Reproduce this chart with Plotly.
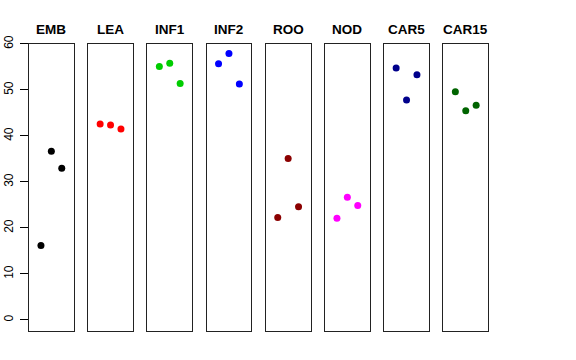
import plotly.graph_objects as go

tissues = ["EMB", "LEA", "INF1", "INF2", "ROO", "NOD", "CAR5", "CAR15"]
colors = ["#000000", "#FF0000", "#00CD00", "#0000FF", "#8B0000", "#FF00FF", "#00008B", "#006400"]
reps = [1, 2, 3]
values = {
    "EMB": [16.2, 36.7, 33.0],
    "LEA": [42.6, 42.4, 41.5],
    "INF1": [55.1, 55.8, 51.4],
    "INF2": [55.7, 57.9, 51.3],
    "ROO": [22.3, 35.1, 24.6],
    "NOD": [22.1, 26.7, 24.9],
    "CAR5": [54.8, 47.8, 53.3],
    "CAR15": [49.6, 45.5, 46.7],
}
yticks = [0, 10, 20, 30, 40, 50, 60]

W, H = 576, 360
left0, pitch, pw = 29.0, 59.2, 44.7
top_px, bot_px = 43.5, 331.0
title_px = 29.5

fig = go.Figure()
layout = dict(
    width=W, height=H,
    margin=dict(l=0, r=0, t=0, b=0),
    paper_bgcolor="white", plot_bgcolor="white",
    showlegend=False,
    font=dict(family="Liberation Sans, Arial, sans-serif", color="black"),
)
annotations = []
for i, t in enumerate(tissues):
    n = "" if i == 0 else str(i + 1)
    x0 = (left0 + i * pitch) / W
    x1 = (left0 + i * pitch + pw) / W
    fig.add_trace(go.Scatter(
        x=reps, y=values[t], mode="markers",
        marker=dict(color=colors[i], size=7, line=dict(width=0)),
        xaxis="x" + n, yaxis="y" + n, hoverinfo="skip",
    ))
    layout["xaxis" + n] = dict(
        domain=[x0, x1], range=[-0.15, 4.15], anchor="y" + n,
        showgrid=False, zeroline=False, showticklabels=False, ticks="",
        showline=True, mirror=True, linecolor="#222222", linewidth=1,
        fixedrange=True,
    )
    ya = dict(
        domain=[1 - bot_px / H, 1 - top_px / H], range=[-2.4, 60.1],
        anchor="x" + n, showgrid=False, zeroline=False,
        showline=True, mirror=True, linecolor="#222222", linewidth=1,
        fixedrange=True,
    )
    if i == 0:
        ya.update(tickvals=yticks, ticktext=[str(v) for v in yticks], ticks="outside",
                  ticklen=8, tickcolor="black", tickangle=-90,
                  ticklabelstandoff=2,
                  tickfont=dict(size=12, family="Liberation Sans, Arial, sans-serif"),
                  automargin=False)
    else:
        ya.update(showticklabels=False, ticks="")
    layout["yaxis" + n] = ya
    annotations.append(dict(
        x=(x0 + x1) / 2, y=1 - title_px / H, xref="paper", yref="paper",
        text="<b>" + t + "</b>", showarrow=False,
        font=dict(size=13.5, family="Liberation Sans, Arial, sans-serif", color="black"),
        xanchor="center", yanchor="middle",
    ))
layout["annotations"] = annotations
fig.update_layout(**layout)
fig.write_html("out.html", config={"displayModeBar": False},
               post_script="document.body.style.margin='0';")
